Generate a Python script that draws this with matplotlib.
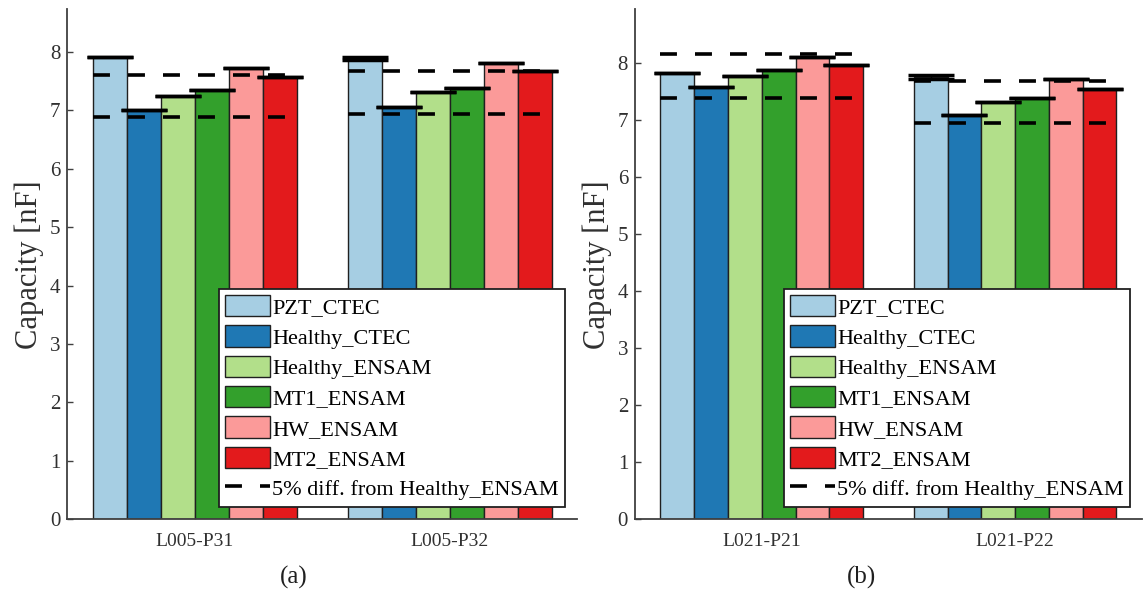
import numpy as np
import matplotlib
matplotlib.use('Agg')
import matplotlib.pyplot as plt

plt.rcParams['font.family'] = ['Liberation Serif', 'DejaVu Serif']
plt.rcParams['lines.scale_dashes'] = False

series = ['PZT_CTEC', 'Healthy_CTEC', 'Healthy_ENSAM', 'MT1_ENSAM', 'HW_ENSAM', 'MT2_ENSAM']
colors = ['#a6cee3', '#1f78b4', '#b2df8a', '#33a02c', '#fb9a99', '#e31a1c']

# panel (a)
cats_a = ['L005-P31', 'L005-P32']
vals_a = [[7.91, 7.01, 7.25, 7.35, 7.73, 7.57],
          [7.89, 7.06, 7.31, 7.38, 7.81, 7.67]]
errs_a = [[0.0, 0.0, 0.0, 0.0, 0.0, 0.0],
          [0.03, 0.0, 0.0, 0.0, 0.0, 0.0]]

# panel (b)
cats_b = ['L021-P21', 'L021-P22']
vals_b = [[7.83, 7.57, 7.77, 7.87, 8.11, 7.96],
          [7.755, 7.08, 7.31, 7.39, 7.71, 7.55]]
errs_b = [[0.0, 0.0, 0.0, 0.0, 0.0, 0.0],
          [0.04, 0.0, 0.0, 0.0, 0.0, 0.0]]

ref_idx = 2  # Healthy_ENSAM
tol = 0.05
ylims = [8.73, 8.94]
captions = ['(a)', '(b)']

fig = plt.figure(figsize=(11.43, 5.95), dpi=100)
ax_a = fig.add_axes([0.0589, 0.1272, 0.4459, 0.8572])
ax_b = fig.add_axes([0.5556, 0.1272, 0.4433, 0.8572])

gray = '#404040'
group_w = 0.8
bw = group_w / len(series)

for ax, cats, vals, errs, ytop, cap, capx in zip(
        [ax_a, ax_b], [cats_a, cats_b], [vals_a, vals_b], [errs_a, errs_b],
        ylims, captions, [0.257, 0.754]):
    x = np.arange(1, len(cats) + 1)
    vals = np.array(vals)
    errs = np.array(errs)
    handles = []
    for j, name in enumerate(series):
        pos = x - group_w / 2 + bw * (j + 0.5)
        b = ax.bar(pos, vals[:, j], width=bw, color=colors[j], edgecolor='#202020',
                   linewidth=1.0, label=name, zorder=2)
        handles.append(b)
        ax.errorbar(pos, vals[:, j], yerr=errs[:, j], fmt='none', ecolor='black',
                    elinewidth=1.0, capsize=16.5, capthick=2.5, zorder=3)
    dash_h = None
    for i, xc in enumerate(x):
        h = vals[i, ref_idx]
        for f in [1 + tol, 1 - tol]:
            ln, = ax.plot([xc - group_w / 2, xc + group_w / 2], [h * f, h * f],
                          color='black', lw=2.6, dashes=(12.2, 13), zorder=4)
            dash_h = ln
    handles.append(dash_h)
    labels = series + ['5% diff. from Healthy_ENSAM']

    ax.set_xlim(0.5, len(cats) + 0.5)
    ax.set_ylim(0, ytop)
    ax.set_xticks(x)
    ax.set_xticklabels(cats, fontsize=14, color='#303030')
    ax.set_yticks(range(0, 9))
    ax.tick_params(axis='y', direction='in', length=4, width=1.0, color=gray,
                   labelsize=15, labelcolor='#303030', pad=5)
    ax.tick_params(axis='x', direction='in', length=4, width=1.0, color=gray, pad=10)
    for s in ['top', 'right']:
        ax.spines[s].set_visible(False)
    for s in ['left', 'bottom']:
        ax.spines[s].set_color(gray)
        ax.spines[s].set_linewidth(1.3)
    ax.set_ylabel('Capacity [nF]', fontsize=22, color='#303030', labelpad=4)

    leg = ax.legend(handles, labels, loc='lower right', bbox_to_anchor=(0.9765, 0.025),
                    borderaxespad=0, fontsize=16, handlelength=2.0, handleheight=1.1,
                    labelspacing=0.32, handletextpad=0.1, borderpad=0.28, fancybox=False,
                    framealpha=1, edgecolor='#202020')
    leg.get_frame().set_linewidth(1.3)
    leg.set_zorder(5)

    fig.text(capx, 0.03, cap, fontsize=18, ha='center', va='center', color='#202020')

fig.savefig('out.png', dpi=100)
